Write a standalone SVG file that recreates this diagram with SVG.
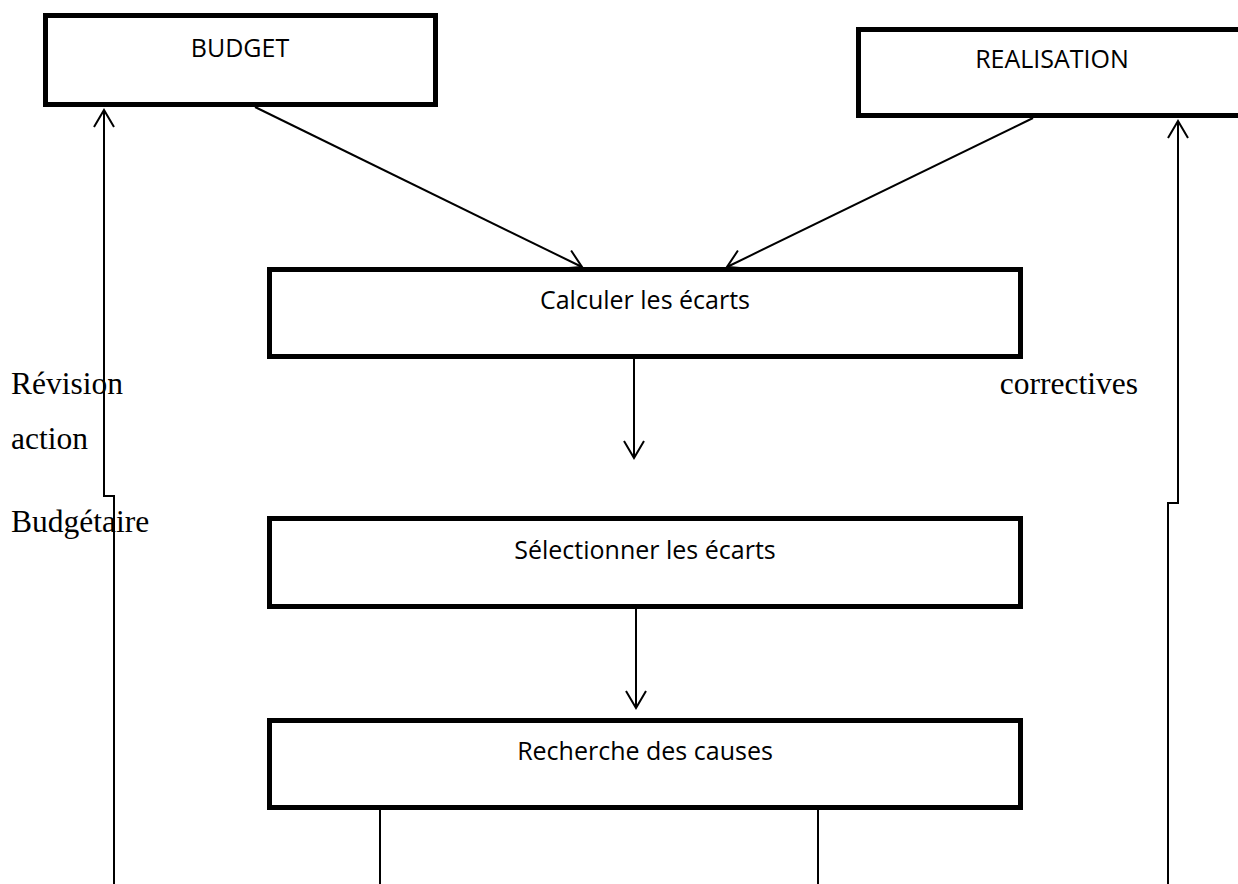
<svg xmlns="http://www.w3.org/2000/svg" width="1238" height="884" viewBox="0 0 1238 884">
  <style>
    .box { fill: #ffffff; stroke: #000000; stroke-width: 5; }
    .box-label { font-family: "Open Sans", "Liberation Sans", sans-serif; font-size: 25px; fill: #000000; text-anchor: middle; }
    .side-label { font-family: "Liberation Serif", "Times New Roman", serif; font-size: 31.5px; fill: #000000; }
    .link { fill: none; stroke: #000000; stroke-width: 2; }
  </style>
  <defs>
    <marker id="open-arrow" markerUnits="userSpaceOnUse" viewBox="-19 -12 21 24" markerWidth="21" markerHeight="24" refX="0" refY="0" orient="auto">
      <path d="M -17 -10 L 0 0 L -17 10" fill="none" stroke="#000000" stroke-width="2"/>
    </marker>
  </defs>
  <rect width="1238" height="884" fill="#ffffff"/>

  <!-- side labels -->
  <g id="labels">
    <text class="side-label" x="11" y="394">Révision</text>
    <text class="side-label" x="11" y="449">action</text>
    <text class="side-label" x="11" y="532">Budgétaire</text>
    <text class="side-label" x="1138" y="394" text-anchor="end">correctives</text>
  </g>

  <!-- connectors -->
  <g id="connectors">
    <line class="link" x1="255" y1="107" x2="582" y2="267" marker-end="url(#open-arrow)"/>
    <line class="link" x1="1033" y1="118" x2="727" y2="267" marker-end="url(#open-arrow)"/>
    <line class="link" x1="634" y1="359" x2="634" y2="458" marker-end="url(#open-arrow)"/>
    <line class="link" x1="636" y1="609" x2="636" y2="708" marker-end="url(#open-arrow)"/>
    <polyline class="link" points="114,884 114,496 104,496 104,110" marker-end="url(#open-arrow)"/>
    <polyline class="link" points="1168,884 1168,503 1178,503 1178,121" marker-end="url(#open-arrow)"/>
    <line class="link" x1="380" y1="810" x2="380" y2="884"/>
    <line class="link" x1="818" y1="810" x2="818" y2="884"/>
  </g>

  <g id="budget">
    <rect class="box" x="45.5" y="15.5" width="390" height="89"/>
    <text class="box-label" x="240" y="57">BUDGET</text>
  </g>

  <g id="realisation">
    <rect class="box" x="858.5" y="29.5" width="400" height="86"/>
    <text class="box-label" x="1052" y="68">REALISATION</text>
  </g>

  <g id="calculer">
    <rect class="box" x="269.5" y="269.5" width="751" height="87"/>
    <text class="box-label" x="645" y="309">Calculer les écarts</text>
  </g>

  <g id="selectionner">
    <rect class="box" x="269.5" y="518.5" width="751" height="88"/>
    <text class="box-label" x="645" y="559">Sélectionner les écarts</text>
  </g>

  <g id="recherche">
    <rect class="box" x="269.5" y="720.5" width="751" height="87"/>
    <text class="box-label" x="645" y="760">Recherche des causes</text>
  </g>
</svg>
